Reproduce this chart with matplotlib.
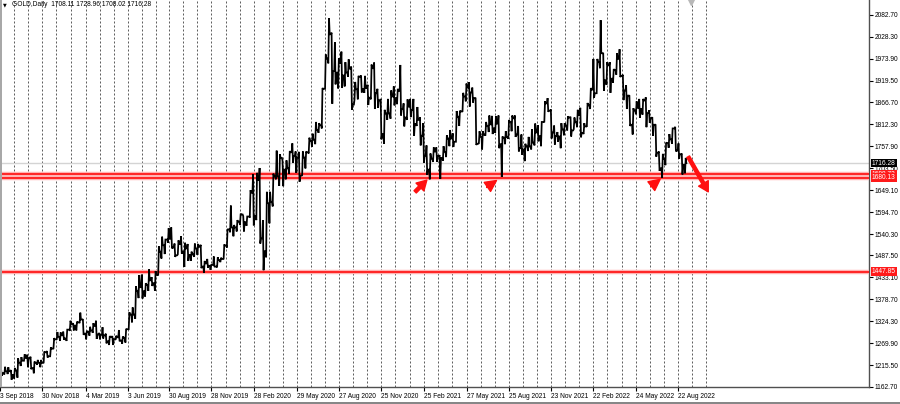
import matplotlib
matplotlib.use("Agg")
import matplotlib.pyplot as plt
import matplotlib.dates as mdates
import matplotlib.transforms as mtransforms
from matplotlib.patches import Rectangle
import pandas as pd

# chart header / last bar
symbol_text = "GOLD,Daily  1708.11 1728.96 1708.02 1716.28"
last_price = 1716.28

# weekly bars, first week starts 3 Sep 2018
first_week = "2018-09-03"
first_open = 1200.0
week_high = [
    1206, 1212, 1211, 1204, 1209, 1233, 1236, 1243, 1242, 1237, 1225, 1229, 1229, 1250, 1251, 1260, 1283, 1298,
    1297, 1299, 1304, 1326, 1320, 1324, 1346, 1330, 1301, 1311, 1320, 1326, 1296, 1310, 1294, 1288, 1288,
    1289, 1303, 1287, 1306, 1347, 1359, 1411, 1439, 1440, 1419, 1453, 1434, 1449, 1510, 1534, 1527, 1555,
    1557, 1517, 1525, 1535, 1519, 1516, 1497, 1517, 1516, 1514, 1474, 1479, 1465, 1485, 1483, 1482, 1515, 1553,
    1611, 1563, 1575, 1591, 1585, 1584, 1649, 1689, 1692, 1704, 1575, 1645, 1645, 1690, 1747, 1738, 1722,
    1723, 1746, 1765, 1745, 1744, 1745, 1745, 1779, 1789, 1818, 1815, 1902, 1985, 2075, 2039, 2015, 1976, 1992,
    1966, 1973, 1955, 1917, 1932, 1933, 1932, 1910, 1960, 1965, 1900, 1875, 1848, 1875, 1896, 1906, 1900,
    1959, 1864, 1874, 1875, 1875, 1855, 1830, 1815, 1760, 1740, 1755, 1755, 1736, 1758, 1785, 1798, 1790,
    1845, 1846, 1890, 1913, 1916, 1903, 1878, 1795, 1795, 1818, 1834, 1833, 1832, 1834, 1782, 1795, 1823, 1834,
    1834, 1808, 1787, 1764, 1781, 1800, 1814, 1810, 1818, 1869, 1877, 1849, 1809, 1793, 1815, 1815, 1832,
    1831, 1829, 1848, 1853, 1815, 1865, 1902, 1974, 1974, 2070, 1989, 1966, 1966, 1949, 1988, 1998, 1935,
    1909, 1884, 1852, 1869, 1875, 1875, 1879, 1847, 1830, 1812, 1745, 1739, 1767, 1788, 1802, 1806, 1765, 1740,
    1729,
]
week_low = [
    1190, 1193, 1194, 1180, 1183, 1185, 1214, 1227, 1211, 1206, 1196, 1217, 1211, 1221, 1235, 1238, 1256, 1279,
    1276, 1279, 1276, 1301, 1302, 1302, 1320, 1291, 1280, 1289, 1296, 1281, 1280, 1282, 1270, 1266, 1266,
    1279, 1275, 1269, 1272, 1305, 1322, 1331, 1382, 1381, 1386, 1400, 1412, 1400, 1438, 1480, 1491, 1519,
    1505, 1484, 1490, 1492, 1459, 1474, 1474, 1484, 1489, 1456, 1445, 1457, 1452, 1459, 1458, 1471, 1478, 1507,
    1545, 1535, 1547, 1563, 1547, 1561, 1581, 1562, 1575, 1517, 1451, 1483, 1567, 1609, 1676, 1660, 1659,
    1676, 1690, 1717, 1692, 1670, 1686, 1703, 1740, 1756, 1763, 1791, 1802, 1900, 1963, 1863, 1911, 1901, 1902,
    1906, 1930, 1848, 1873, 1874, 1891, 1890, 1860, 1874, 1850, 1853, 1775, 1764, 1823, 1826, 1859, 1862,
    1834, 1807, 1823, 1830, 1784, 1808, 1760, 1717, 1687, 1676, 1719, 1719, 1677, 1722, 1731, 1758, 1756,
    1769, 1808, 1843, 1869, 1856, 1866, 1761, 1765, 1750, 1784, 1793, 1788, 1791, 1753, 1682, 1763, 1776, 1795,
    1781, 1745, 1737, 1721, 1746, 1750, 1760, 1770, 1758, 1817, 1843, 1777, 1762, 1769, 1753, 1785, 1797,
    1782, 1800, 1805, 1780, 1788, 1806, 1850, 1878, 1889, 1951, 1895, 1910, 1890, 1915, 1935, 1929, 1872,
    1850, 1808, 1787, 1837, 1828, 1836, 1805, 1816, 1784, 1732, 1697, 1680, 1711, 1754, 1764, 1745, 1727, 1688,
    1691,
]
week_close = [
    1196, 1201, 1201, 1192, 1203, 1222, 1227, 1234, 1233, 1209, 1222, 1222, 1222, 1248, 1238, 1257, 1280, 1286,
    1290, 1282, 1304, 1318, 1314, 1322, 1329, 1294, 1299, 1302, 1313, 1292, 1291, 1290, 1275, 1286, 1280,
    1285, 1277, 1284, 1305, 1341, 1341, 1400, 1409, 1399, 1415, 1426, 1419, 1440, 1497, 1513, 1527, 1529,
    1507, 1488, 1516, 1497, 1505, 1489, 1490, 1505, 1509, 1460, 1468, 1462, 1464, 1460, 1476, 1479, 1512, 1552,
    1557, 1557, 1571, 1589, 1570, 1584, 1643, 1585, 1674, 1530, 1498, 1617, 1620, 1683, 1683, 1729, 1700,
    1703, 1743, 1734, 1730, 1685, 1730, 1743, 1771, 1774, 1798, 1810, 1900, 1975, 2035, 1944, 1940, 1964, 1933,
    1940, 1950, 1861, 1899, 1930, 1899, 1902, 1878, 1951, 1889, 1871, 1788, 1839, 1839, 1881, 1877, 1895,
    1850, 1829, 1856, 1848, 1813, 1823, 1784, 1734, 1700, 1727, 1745, 1733, 1729, 1744, 1777, 1777, 1769,
    1831, 1844, 1881, 1903, 1891, 1877, 1764, 1781, 1787, 1808, 1812, 1802, 1814, 1763, 1779, 1781, 1818, 1827,
    1787, 1753, 1750, 1757, 1757, 1767, 1792, 1783, 1818, 1864, 1846, 1792, 1783, 1782, 1799, 1809, 1829,
    1797, 1817, 1835, 1791, 1807, 1859, 1898, 1889, 1966, 1988, 1921, 1958, 1925, 1946, 1974, 1932, 1896,
    1883, 1811, 1846, 1853, 1850, 1871, 1840, 1827, 1811, 1742, 1703, 1727, 1766, 1775, 1802, 1747, 1738, 1712,
    1716,
]

# axis texts
date_labels = ["3 Sep 2018", "30 Nov 2018", "4 Mar 2019", "3 Jun 2019", "30 Aug 2019", "28 Nov 2019",
               "28 Feb 2020", "29 May 2020", "27 Aug 2020", "25 Nov 2020", "25 Feb 2021", "27 May 2021",
               "25 Aug 2021", "23 Nov 2021", "22 Feb 2022", "24 May 2022", "22 Aug 2022"]
price_ticks = [2082.70, 2028.30, 1973.90, 1919.50, 1866.70, 1812.30, 1757.90, 1703.50, 1649.10,
               1594.70, 1540.30, 1487.50, 1433.10, 1378.70, 1324.30, 1269.90, 1215.50, 1162.70]

# drawn levels
levels = [1688.73, 1680.13, 1447.85]

# red arrows: (tail date, tail price, tip date, tip price, has shaft)
arrows = [
    ("2021-02-06", 1645, "2021-03-03", 1674, True),
    ("2021-07-09", 1656, "2021-07-30", 1673, False),
    ("2022-06-25", 1658, "2022-07-15", 1676, False),
    ("2022-09-13", 1732, "2022-10-26", 1645, True),
]

FONT = "Liberation Sans"
FS = 4.8

fig = plt.figure(figsize=(9, 4.04), dpi=100)
ax = fig.add_axes([0, 17 / 404, 869 / 900, 387 / 404])

# zigzag path through each week's open / extremes / close
weeks = pd.date_range(first_week, periods=len(week_close), freq="7D")
xs, ys = [], []
prev = first_open
for d, h, l, c in zip(weeks, week_high, week_low, week_close):
    a, b = (l, h) if c >= prev else (h, l)
    for off, v in zip([0.0, 1.3, 2.8, 4.2], [prev, a, b, c]):
        xs.append(mdates.date2num(d + pd.Timedelta(days=off)))
        ys.append(v)
    prev = c
ax.plot(xs, ys, color="black", lw=1.25, zorder=4, solid_joinstyle="miter")

# x range: 0.4675 px per calendar day
x0 = mdates.date2num(pd.Timestamp("2018-09-02"))
ax.set_xlim(x0, x0 + 869 / 0.4675)
ax.set_ylim(1162.0, 2119.8)

# dashed vertical grid, three per label interval
label_dates = [pd.Timestamp(s) for s in date_labels]
grid_dates = []
for a, b in zip(label_dates[:-1], label_dates[1:]):
    step = (b - a) / 3
    grid_dates += [a, a + step, a + 2 * step]
grid_dates += [label_dates[-1], label_dates[-1] + pd.Timedelta(days=30),
               label_dates[-1] + pd.Timedelta(days=60)]
for g in grid_dates:
    ax.axvline(mdates.date2num(g), color="#404040", lw=0.6, ls=(0, (2.4, 2.4)), zorder=1)

# price levels
ax.axhline(last_price, color="#d4d4d4", lw=1.0, zorder=2)
for lv in levels:
    ax.axhline(lv, color="#ffb4b4", lw=3.2, zorder=3)
    ax.axhline(lv, color="#ff1a1a", lw=1.3, zorder=3)

# arrows
for t0, p0, t1, p1, shaft in arrows:
    tail = (mdates.date2num(pd.Timestamp(t0)), p0)
    tip = (mdates.date2num(pd.Timestamp(t1)), p1)
    if shaft:
        props = dict(facecolor="#ff1010", edgecolor="#ff1010", width=2.3, headwidth=8, headlength=7)
    else:
        props = dict(facecolor="#ff1010", edgecolor="#ff1010", width=0.1, headwidth=8, headlength=8)
    ax.annotate("", xy=tip, xytext=tail, arrowprops=props, zorder=6)

# axes look
ax.yaxis.tick_right()
ax.set_yticks(price_ticks)
ax.set_yticklabels([f"{p:.2f}" for p in price_ticks], fontsize=FS, family=FONT)
ax.set_xticks([mdates.date2num(d) for d in label_dates])
ax.set_xticklabels(date_labels, fontsize=FS, family=FONT, ha="left")
ax.tick_params(axis="y", direction="out", length=3, width=0.8, pad=1.2, colors="black")
ax.tick_params(axis="x", direction="out", length=3, width=0.8, pad=1.5, colors="black")
for side in ["top", "left"]:
    ax.spines[side].set_visible(False)
for side in ["right", "bottom"]:
    ax.spines[side].set_color("#505050")
    ax.spines[side].set_linewidth(1.0)

# price boxes on the right scale
trans = mtransforms.blended_transform_factory(ax.transAxes, ax.transData)
box_x = 1 + 3 / 869
for lv in levels:
    ax.text(box_x, lv, f"{lv:.2f}", transform=trans, fontsize=FS, family=FONT, color="white",
            va="center", ha="left", clip_on=False, zorder=7,
            bbox=dict(boxstyle="square,pad=0.12", facecolor="#ff1a1a", edgecolor="none"))
ax.text(box_x, last_price, f"{last_price:.2f}", transform=trans, fontsize=FS, family=FONT, color="white",
        va="center", ha="left", clip_on=False, zorder=8,
        bbox=dict(boxstyle="square,pad=0.12", facecolor="black", edgecolor="none"))

# header and window chrome
fig.text(3 / 900, 1 - 5 / 404, "\u25bc", fontsize=3.5, va="center", ha="left", color="black")
fig.text(12 / 900, 1 - 5 / 404, symbol_text, fontsize=FS, family=FONT, va="center", ha="left", color="black")
ax.plot([691 / 869], [1 - 2 / 387], marker="v", ms=5, color="#b8b8b8", transform=ax.transAxes,
        clip_on=False, zorder=5)
fig.patches.append(Rectangle((0, 17 / 404), 2 / 900, 387 / 404, transform=fig.transFigure,
                             facecolor="#a8a8a8", edgecolor="none"))
fig.lines.append(plt.Line2D([0, 1], [1.5 / 404, 1.5 / 404], transform=fig.transFigure,
                            color="#707070", lw=1.2))

fig.savefig("out.png", dpi=100)
